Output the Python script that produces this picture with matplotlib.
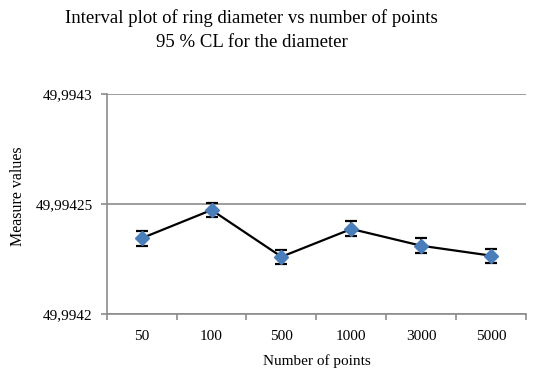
import numpy as np
import matplotlib
matplotlib.use("Agg")
from matplotlib import pyplot as plt
from matplotlib.ticker import FixedLocator

# data
points = ["50", "100", "500", "1000", "3000", "5000"]
diameter = [49.9942345, 49.9942473, 49.9942261, 49.9942387, 49.9942311, 49.9942266]
ci_half = [0.0000033, 0.0000032, 0.0000032, 0.0000034, 0.0000034, 0.0000032]
yticks = [49.9942, 49.99425, 49.9943]
ytick_labels = ["49,9942", "49,99425", "49,9943"]

plt.rcParams['font.family'] = ['Liberation Serif', 'DejaVu Serif']

fig = plt.figure(figsize=(5.35, 3.72), dpi=100)
ax = fig.add_axes([0.1994, 0.155, 0.784, 0.593])

x = np.arange(len(points))
ax.plot(x, diameter, color='black', lw=1.6, zorder=2)
ax.errorbar(x, diameter, yerr=ci_half, fmt='none', ecolor='black',
            elinewidth=1.3, capsize=4.3, capthick=1.6, zorder=3)
ax.plot(x, diameter, ls='none', marker='D', ms=7.5, color='#4a7ebb',
        markeredgecolor='#4a7ebb', zorder=4)

ax.set_ylim(yticks[0], yticks[-1])
ax.set_yticks(yticks)
ax.set_yticklabels(ytick_labels, fontsize=11)
ax.yaxis.grid(True, color='#8c8c8c', lw=1.2)
ax.set_axisbelow(True)

ax.set_xlim(-0.5, len(points) - 0.5)
ax.set_xticks(x)
ax.set_xticklabels(points, fontsize=11)
ax.xaxis.set_minor_locator(FixedLocator(np.arange(-0.5, len(points), 1.0)))
ax.tick_params(axis='x', which='major', length=0, pad=11)
ax.tick_params(axis='x', which='minor', length=4, color='#8c8c8c', width=1.2)
ax.tick_params(axis='y', length=4, color='#8c8c8c', width=1.2, pad=6)

for s in ['top', 'right']:
    ax.spines[s].set_visible(False)
for s in ['left', 'bottom']:
    ax.spines[s].set_color('#8c8c8c')
    ax.spines[s].set_linewidth(1.2)

ax.set_xlabel("Number of points", fontsize=11, labelpad=8)
ax.set_ylabel("Measure values", fontsize=11.5)
ax.yaxis.set_label_coords(-0.192, 0.536)

fig.text(0.470, 0.952, "Interval plot of ring diameter vs number of points",
         ha='center', va='center', fontsize=13.5)
fig.text(0.471, 0.887, "95 % CL for the diameter",
         ha='center', va='center', fontsize=13.5)

fig.savefig("out.png", dpi=100)
